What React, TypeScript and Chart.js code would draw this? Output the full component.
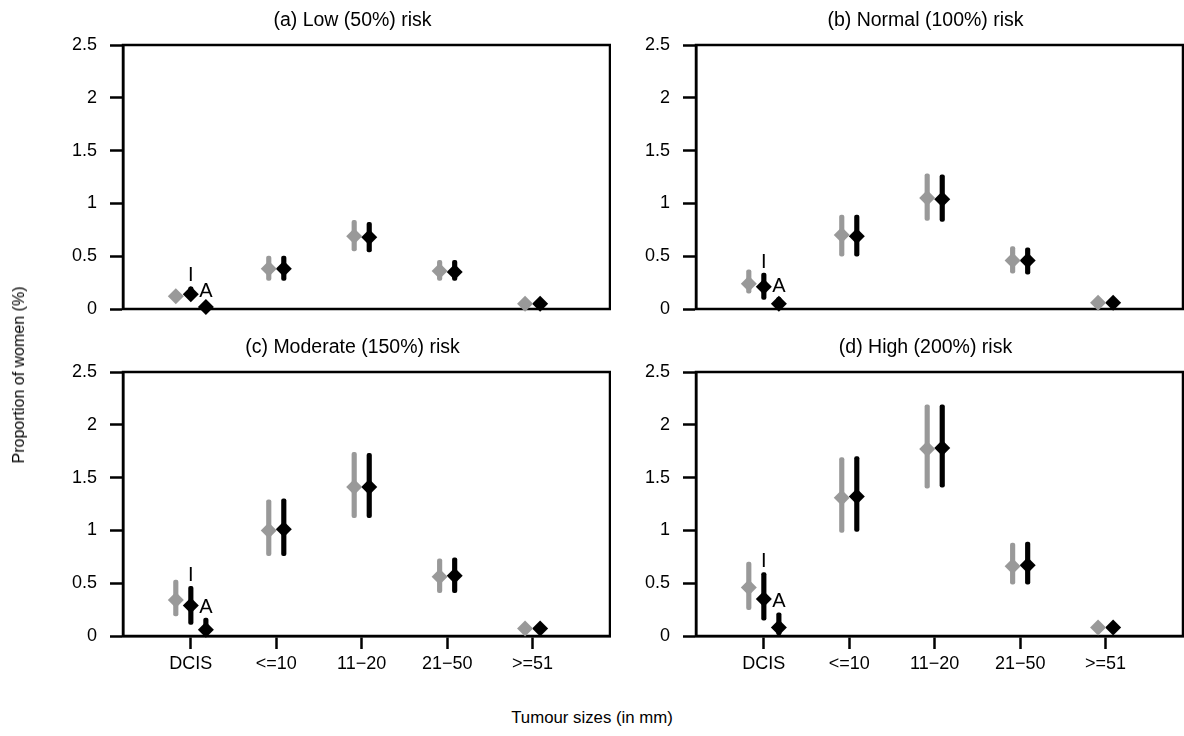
import React, { useEffect, useRef } from 'react';
import { Chart, registerables } from 'chart.js';

Chart.register(...registerables);

type Triple = [number, number, number]; // [lower, estimate, upper]

const categories = ['DCIS', '<=10', '11\u221220', '21\u221250', '>=51'];
const yTickValues = [0, 0.5, 1, 1.5, 2, 2.5];
const panelTitles = [
  '(a) Low (50%) risk',
  '(b) Normal (100%) risk',
  '(c) Moderate (150%) risk',
  '(d) High (200%) risk',
];
const annotationLabels = ['I', 'A'];

// (a) Low risk
const lowGrey: Triple[] = [[0.08, 0.12, 0.17], [0.27, 0.38, 0.50], [0.55, 0.69, 0.84], [0.27, 0.36, 0.46], [0.02, 0.05, 0.08]];
const lowBlack: Triple[] = [[0.09, 0.14, 0.21], [0.27, 0.38, 0.50], [0.54, 0.68, 0.82], [0.27, 0.35, 0.46], [0.02, 0.05, 0.08]];
const lowDcisA: Triple = [0.0, 0.02, 0.06];

// (b) Normal risk
const normalGrey: Triple[] = [[0.15, 0.24, 0.37], [0.50, 0.70, 0.89], [0.84, 1.05, 1.28], [0.34, 0.46, 0.59], [0.03, 0.06, 0.09]];
const normalBlack: Triple[] = [[0.09, 0.21, 0.34], [0.50, 0.69, 0.89], [0.83, 1.04, 1.27], [0.33, 0.46, 0.58], [0.03, 0.06, 0.09]];
const normalDcisA: Triple = [0.01, 0.05, 0.11];

// (c) Moderate risk
const moderateGrey: Triple[] = [[0.19, 0.34, 0.53], [0.76, 1.00, 1.29], [1.12, 1.41, 1.74], [0.41, 0.56, 0.73], [0.04, 0.07, 0.10]];
const moderateBlack: Triple[] = [[0.11, 0.29, 0.47], [0.76, 1.01, 1.30], [1.12, 1.41, 1.73], [0.41, 0.57, 0.74], [0.04, 0.07, 0.10]];
const moderateDcisA: Triple = [0.01, 0.06, 0.17];

// (d) High risk
const highGrey: Triple[] = [[0.25, 0.46, 0.70], [0.98, 1.31, 1.69], [1.40, 1.77, 2.19], [0.49, 0.66, 0.88], [0.05, 0.08, 0.11]];
const highBlack: Triple[] = [[0.15, 0.35, 0.60], [0.99, 1.32, 1.70], [1.41, 1.78, 2.19], [0.49, 0.67, 0.89], [0.05, 0.08, 0.11]];
const highDcisA: Triple = [0.01, 0.08, 0.22];

const FONT = "'Liberation Sans', Arial, Helvetica, sans-serif";
const GREY = '#999999';
const BLACK = '#000000';

interface PanelSpec {
  title: string;
  grey: Triple[];
  black: Triple[];
  dcisA: Triple;
  showX: boolean;
  left: number;
  top: number;
}

const panels: PanelSpec[] = [
  { title: panelTitles[0], grey: lowGrey, black: lowBlack, dcisA: lowDcisA, showX: false, left: 0, top: 0 },
  { title: panelTitles[1], grey: normalGrey, black: normalBlack, dcisA: normalDcisA, showX: false, left: 573, top: 0 },
  { title: panelTitles[2], grey: moderateGrey, black: moderateBlack, dcisA: moderateDcisA, showX: true, left: 0, top: 327 },
  { title: panelTitles[3], grey: highGrey, black: highBlack, dcisA: highDcisA, showX: true, left: 573, top: 327 },
];

const CANVAS_W = 611;
const TOP_H = 340;
const BOTTOM_H = 380;

function Panel({ spec }: { spec: PanelSpec }) {
  const ref = useRef<HTMLCanvasElement | null>(null);
  useEffect(() => {
    if (!ref.current) return;
    const greyX = categories.map((_, i) => i + 1 + (i === 0 ? -0.176 : -0.088));
    const blackX = categories.map((_, i) => i + 1 + (i === 0 ? 0 : 0.088));
    const aX = 1 + 0.176;

    const greyPts = spec.grey.map((t, i) => ({ x: greyX[i], y: t[1] }));
    const blackPts = spec.black.map((t, i) => ({ x: blackX[i], y: t[1] }));
    blackPts.push({ x: aX, y: spec.dcisA[1] });
    const greyBars = spec.grey.map((t, i) => ({ x: greyX[i], y: [t[0], t[2]] }));
    const blackBars = spec.black.map((t, i) => ({ x: blackX[i], y: [t[0], t[2]] }));
    blackBars.push({ x: aX, y: [spec.dcisA[0], spec.dcisA[2]] });

    const labelItems = [
      { text: annotationLabels[0], x: blackX[0], y: spec.black[0][2] },
      { text: annotationLabels[1], x: aX, y: spec.dcisA[2] },
    ];

    const boxPlugin = {
      id: 'boxPlugin',
      beforeDatasetsDraw(chart: any) {
        const { ctx, chartArea } = chart;
        ctx.save();
        ctx.strokeStyle = BLACK;
        ctx.lineWidth = 2.5;
        ctx.strokeRect(chartArea.left, chartArea.top, chartArea.right - chartArea.left, chartArea.bottom - chartArea.top);
        // panel title, a little left of the plot centre as in the source figure
        ctx.fillStyle = BLACK;
        ctx.font = `19.5px ${FONT}`;
        ctx.textAlign = 'center';
        ctx.textBaseline = 'middle';
        ctx.fillText(spec.title, (chartArea.left + chartArea.right) / 2 - 14, chartArea.top - 24);
        ctx.restore();
      },
    };
    const labelPlugin = {
      id: 'labelPlugin',
      afterDatasetsDraw(chart: any) {
        const { ctx } = chart;
        const xs = chart.scales.x;
        const ys = chart.scales.y;
        ctx.save();
        ctx.fillStyle = BLACK;
        ctx.font = `20px ${FONT}`;
        ctx.textAlign = 'center';
        ctx.textBaseline = 'middle';
        labelItems.forEach((l) => {
          ctx.fillText(l.text, xs.getPixelForValue(l.x), ys.getPixelForValue(l.y) - 11);
        });
        ctx.restore();
      },
    };

    const chart = new Chart(ref.current, {
      type: 'bar',
      data: {
        datasets: [
          {
            type: 'line',
            data: greyPts,
            showLine: false,
            pointStyle: 'rectRot',
            pointRadius: 8,
            pointHoverRadius: 8,
            pointBackgroundColor: GREY,
            pointBorderWidth: 0,
            borderWidth: 0,
            clip: false,
            order: 0,
          } as any,
          {
            type: 'line',
            data: blackPts,
            showLine: false,
            pointStyle: 'rectRot',
            pointRadius: 8,
            pointHoverRadius: 8,
            pointBackgroundColor: BLACK,
            pointBorderWidth: 0,
            borderWidth: 0,
            clip: false,
            order: 0,
          } as any,
          {
            type: 'bar',
            data: greyBars,
            backgroundColor: GREY,
            barThickness: 4.5,
            maxBarThickness: 4.5,
            grouped: false,
            borderSkipped: false,
            borderRadius: 2,
            clip: false,
            order: 1,
          } as any,
          {
            type: 'bar',
            data: blackBars,
            backgroundColor: BLACK,
            barThickness: 4.5,
            maxBarThickness: 4.5,
            grouped: false,
            borderSkipped: false,
            borderRadius: 2,
            clip: false,
            order: 1,
          } as any,
        ],
      },
      options: {
        animation: false,
        responsive: false,
        events: [],
        layout: {
          autoPadding: false,
          padding: { left: 0, right: 1, top: 45, bottom: spec.showX ? 21 : TOP_H - 309 },
        },
        plugins: {
          legend: { display: false },
          tooltip: { enabled: false },
          title: { display: false },
        },
        scales: {
          x: {
            type: 'linear',
            min: 0.206,
            max: 5.906,
            offset: false,
            display: spec.showX,
            afterBuildTicks: (s: any) => {
              s.ticks = categories.map((_, i) => ({ value: i + 1 }));
            },
            afterFit: (s: any) => {
              s.height = spec.showX ? 50 : 0;
            },
            ticks: {
              autoSkip: false,
              maxRotation: 0,
              minRotation: 0,
              color: BLACK,
              padding: 4,
              font: { family: FONT, size: 18 },
              callback: (v: any) => categories[Math.round(Number(v)) - 1],
            },
            grid: {
              display: true,
              offset: false,
              drawOnChartArea: false,
              drawTicks: true,
              tickLength: 13,
              tickWidth: 2.5,
              tickColor: BLACK,
            },
            border: { display: true, color: BLACK, width: 2.5 },
          } as any,
          y: {
            type: 'linear',
            min: 0,
            max: 2.5,
            afterBuildTicks: (s: any) => {
              s.ticks = yTickValues.map((v) => ({ value: v }));
            },
            afterFit: (s: any) => {
              s.width = 123;
            },
            ticks: {
              color: BLACK,
              padding: 13,
              font: { family: FONT, size: 18 },
              callback: (v: any) => String(v),
            },
            grid: {
              display: true,
              drawOnChartArea: false,
              drawTicks: true,
              tickLength: 13,
              tickWidth: 2.5,
              tickColor: BLACK,
            },
            border: { display: true, color: BLACK, width: 2.5 },
          } as any,
        },
      } as any,
      plugins: [boxPlugin, labelPlugin],
    });
    return () => chart.destroy();
  }, [spec]);

  const h = spec.showX ? BOTTOM_H : TOP_H;
  return (
    <canvas
      ref={ref}
      width={CANVAS_W}
      height={h}
      style={{ position: 'absolute', left: spec.left, top: spec.top, width: CANVAS_W, height: h }}
    />
  );
}

export default function App() {
  return (
    <div
      style={{
        position: 'absolute',
        left: 0,
        top: 0,
        width: 1184,
        height: 736,
        background: '#ffffff',
        overflow: 'hidden',
        fontFamily: FONT,
      }}
    >
      {panels.map((p, i) => (
        <Panel key={i} spec={p} />
      ))}
      <div
        style={{
          position: 'absolute',
          left: 0,
          top: 708,
          width: 1184,
          textAlign: 'center',
          fontSize: 16.8,
          lineHeight: '20px',
          color: BLACK,
        }}
      >
        Tumour sizes (in mm)
      </div>
      <div
        style={{
          position: 'absolute',
          left: 19,
          top: 375,
          transform: 'translate(-50%, -50%) rotate(-90deg)',
          whiteSpace: 'nowrap',
          fontSize: 16,
          lineHeight: '20px',
          color: BLACK,
        }}
      >
        Proportion of women (%)
      </div>
    </div>
  );
}
